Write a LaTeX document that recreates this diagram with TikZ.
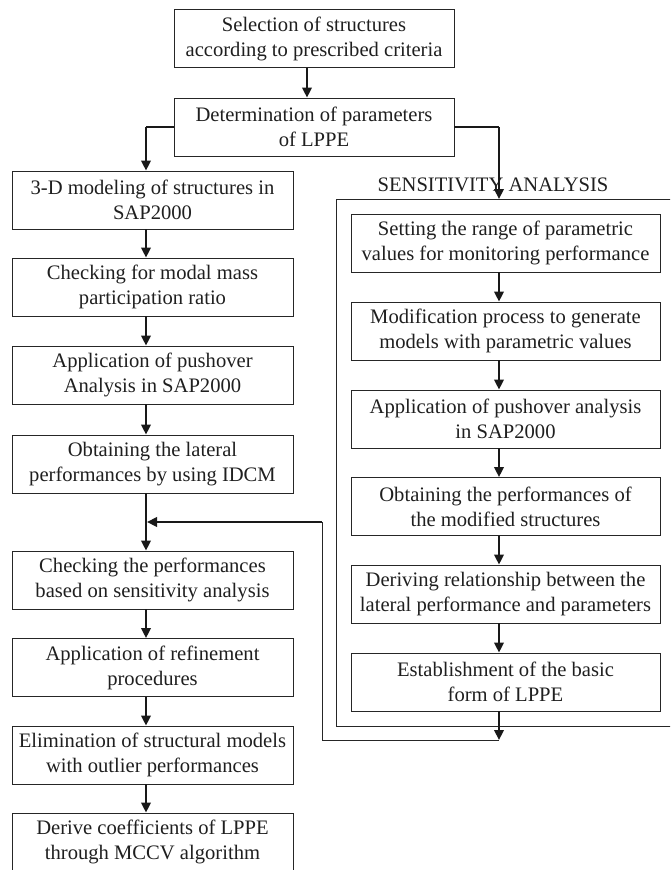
\documentclass[tikz,border=0pt]{standalone}
\usepackage{fontspec}
\setmainfont{Liberation Serif}
\usetikzlibrary{arrows.meta}
\begin{document}
\begin{tikzpicture}[x=1pt,y=-1pt,
  txt/.style={font=\fontsize{20.6}{25}\selectfont, text=black!88},
  boxbase/.style={txt, draw=black!85, line width=0.9pt, minimum height=58pt, inner sep=0pt, align=center},
  lbox/.style={boxbase, minimum width=281pt},
  rbox/.style={boxbase, minimum width=309pt},
  tbox/.style={boxbase, minimum width=280pt},
  arr/.style={draw=black!90, line width=2.2pt, -{Triangle[width=9.5pt,length=10pt]}},
  thickline/.style={draw=black!90, line width=2.2pt},
  thinline/.style={draw=black!85, line width=0.9pt}
]
\useasboundingbox (0,0) rectangle (670,870);
\clip (0,0) rectangle (670,870);

% top boxes
\node[tbox] (sel) at (314,38.5) {Selection of structures\\according to prescribed criteria};
\node[tbox] (det) at (314,127) {Determination of parameters\\of LPPE};

% left column
\node[lbox] (mod3d) at (152.5,200) {3-D modeling of structures in\\SAP2000};
\node[lbox] (modal) at (152.5,287) {Checking for modal mass\\participation ratio};
\node[lbox] (push)  at (152.5,375) {Application of pushover\\Analysis in SAP2000};
\node[lbox] (lat)   at (152.5,464) {Obtaining the lateral\\performances by using IDCM};
\node[lbox] (chk)   at (152.5,580) {Checking the performances\\based on sensitivity analysis};
\node[lbox] (ref)   at (152.5,667.5) {Application of refinement\\procedures};
\node[lbox] (elim)  at (152.5,755) {Elimination of structural models\\with outlier performances};
\node[lbox] (der)   at (152.5,842) {Derive coefficients of LPPE\\through MCCV algorithm};

% right column
\node[txt] (sens) at (493,185) {SENSITIVITY ANALYSIS};
\node[rbox] (set)  at (505.5,243) {Setting the range of parametric\\values for monitoring performance};
\node[rbox] (gen)  at (505.5,331) {Modification process to generate\\models with parametric values};
\node[rbox] (rpush) at (505.5,419) {Application of pushover analysis\\in SAP2000};
\node[rbox] (perf) at (505.5,506.5) {Obtaining the performances of\\the modified structures};
\node[rbox] (rel)  at (505.5,594) {Deriving relationship between the\\lateral performance and parameters};
\node[rbox] (est)  at (505.5,682) {Establishment of the basic\\form of LPPE};

% frame of sensitivity analysis
\coordinate (frTR) at (671,199);
\coordinate (frTL) at (336,199);
\coordinate (frBL) at (336,726);
\coordinate (frBR) at (671,726);
\draw[thinline] (frTR) -- (frTL) -- (frBL) -- (frBR);

% arrow x positions
\coordinate (lx) at (146,0);
\coordinate (rx) at (499,0);
\coordinate (tx) at (307,0);

% top arrows
\draw[arr] (sel.south -| tx) -- (det.north -| tx);
\draw[thickline] (det.west) -- (det.west -| lx);
\draw[arr] (det.west -| lx) -- (mod3d.north -| lx);
\draw[thickline] (det.east) -- (det.east -| rx);
\draw[arr] (det.east -| rx) -- (frTL -| rx);

% left arrows
\draw[arr] (mod3d.south -| lx) -- (modal.north -| lx);
\draw[arr] (modal.south -| lx) -- (push.north -| lx);
\draw[arr] (push.south -| lx) -- (lat.north -| lx);
\draw[arr] (lat.south -| lx) -- (chk.north -| lx);
\draw[arr] (chk.south -| lx) -- (ref.north -| lx);
\draw[arr] (ref.south -| lx) -- (elim.north -| lx);
\draw[arr] (elim.south -| lx) -- (der.north -| lx);

% right arrows
\draw[arr] (set.south -| rx) -- (gen.north -| rx);
\draw[arr] (gen.south -| rx) -- (rpush.north -| rx);
\draw[arr] (rpush.south -| rx) -- (perf.north -| rx);
\draw[arr] (perf.south -| rx) -- (rel.north -| rx);
\draw[arr] (rel.south -| rx) -- (est.north -| rx);

% feedback
\coordinate (fbB) at (499,740);
\coordinate (fbC) at (322,740);
\coordinate (fbT) at (322,522);
\coordinate (fbE) at (147,522);
\draw[arr] (est.south -| rx) -- (fbB);
\draw[thinline] (fbB) -- (fbC) -- (fbT);
\draw[arr] ([xshift=0.45pt]fbT) -- (fbE);
\end{tikzpicture}
\end{document}
